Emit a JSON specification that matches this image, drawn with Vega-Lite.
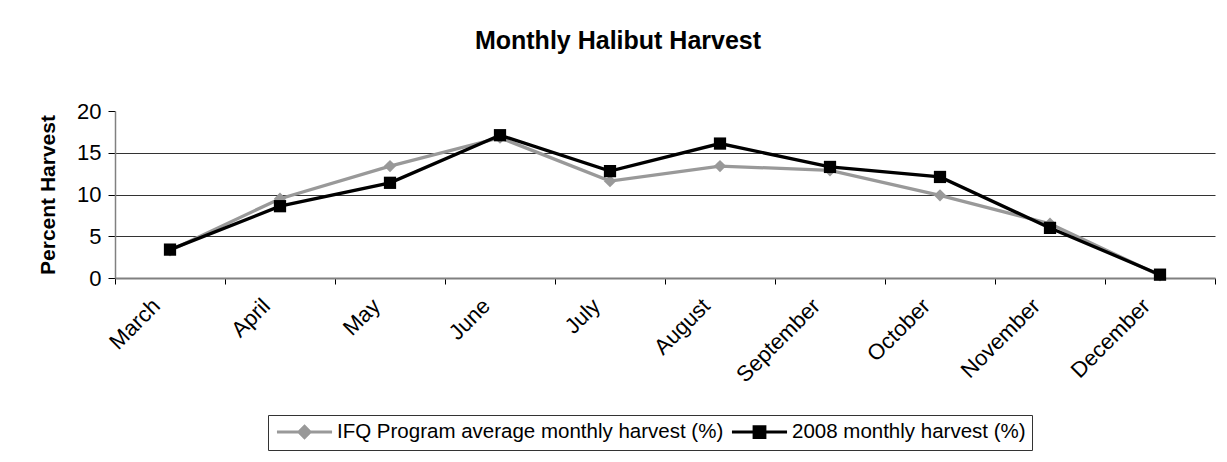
{
  "$schema": "https://vega.github.io/schema/vega-lite/v6.json",
  "autosize": "none",
  "width": 1100,
  "height": 167,
  "padding": {"left": 115, "top": 111, "right": 12, "bottom": 184},
  "background": "white",
  "config": {
    "font": "Liberation Sans",
    "view": {"stroke": null}
  },
  "title": {
    "text": "Monthly Halibut Harvest",
    "fontSize": 25,
    "fontWeight": "bold",
    "font": "Liberation Sans",
    "color": "black",
    "anchor": "middle",
    "dx": -47,
    "offset": 46
  },
  "data": {
    "values": [
      {"month": "March", "series": "IFQ Program average monthly harvest (%)", "value": 3.3},
      {"month": "April", "series": "IFQ Program average monthly harvest (%)", "value": 9.5},
      {"month": "May", "series": "IFQ Program average monthly harvest (%)", "value": 13.4},
      {"month": "June", "series": "IFQ Program average monthly harvest (%)", "value": 16.8},
      {"month": "July", "series": "IFQ Program average monthly harvest (%)", "value": 11.6},
      {"month": "August", "series": "IFQ Program average monthly harvest (%)", "value": 13.4},
      {"month": "September", "series": "IFQ Program average monthly harvest (%)", "value": 12.9},
      {"month": "October", "series": "IFQ Program average monthly harvest (%)", "value": 9.9},
      {"month": "November", "series": "IFQ Program average monthly harvest (%)", "value": 6.5},
      {"month": "December", "series": "IFQ Program average monthly harvest (%)", "value": 0.3},
      {"month": "March", "series": "2008 monthly harvest (%)", "value": 3.4},
      {"month": "April", "series": "2008 monthly harvest (%)", "value": 8.6},
      {"month": "May", "series": "2008 monthly harvest (%)", "value": 11.4},
      {"month": "June", "series": "2008 monthly harvest (%)", "value": 17.1},
      {"month": "July", "series": "2008 monthly harvest (%)", "value": 12.8},
      {"month": "August", "series": "2008 monthly harvest (%)", "value": 16.1},
      {"month": "September", "series": "2008 monthly harvest (%)", "value": 13.3},
      {"month": "October", "series": "2008 monthly harvest (%)", "value": 12.1},
      {"month": "November", "series": "2008 monthly harvest (%)", "value": 6.0},
      {"month": "December", "series": "2008 monthly harvest (%)", "value": 0.4}
    ]
  },
  "encoding": {
    "x": {
      "field": "month",
      "type": "nominal",
      "sort": ["March", "April", "May", "June", "July", "August", "September", "October", "November", "December"],
      "scale": {"type": "band", "paddingInner": 0, "paddingOuter": 0},
      "axis": {
        "title": null,
        "labelAngle": -45,
        "labelAlign": "right",
        "labelBaseline": "middle",
        "labelOffset": -14,
        "labelFontSize": 22,
        "labelColor": "black",
        "labelPadding": 18,
        "tickBand": "extent",
        "tickSize": 6,
        "tickColor": "black",
        "domainColor": "#808080",
        "domainWidth": 2,
        "grid": false
      }
    },
    "y": {
      "field": "value",
      "type": "quantitative",
      "scale": {"domain": [0, 20], "nice": false},
      "axis": {
        "title": "Percent Harvest",
        "titleFontSize": 21,
        "titleFontWeight": "bold",
        "titleColor": "black",
        "titlePadding": 18,
        "values": [0, 5, 10, 15, 20],
        "labelFontSize": 22,
        "labelColor": "black",
        "labelPadding": 7,
        "tickSize": 7,
        "tickColor": "black",
        "domainColor": "#808080",
        "domainWidth": 1.5,
        "grid": true,
        "gridColor": "#333333",
        "gridWidth": 1,
        "gridOpacity": {"condition": {"test": "datum.value === 20 || datum.value === 0", "value": 0}, "value": 1}
      }
    },
    "color": {
      "field": "series",
      "type": "nominal",
      "scale": {
        "domain": ["IFQ Program average monthly harvest (%)", "2008 monthly harvest (%)"],
        "range": ["#999999", "#000000"]
      },
      "legend": {
        "title": null,
        "orient": "none",
        "legendX": 153,
        "legendY": 304,
        "direction": "horizontal",
        "strokeColor": "#333333",
        "padding": 6,
        "labelFontSize": 20.5,
        "labelColor": "black",
        "labelLimit": 600,
        "columnPadding": 1,
        "symbolSize": 324,
        "symbolStrokeWidth": 3,
        "symbolOffset": 20,
        "labelOffset": 22,
        "encode": {
          "symbols": {
            "update": {
              "shape": {"signal": "datum.value === '2008 monthly harvest (%)' ? 'M-3.06,0L3.06,0M-0.6,-0.6L0.6,-0.6L0.6,0.6L-0.6,0.6Z' : 'M-3.06,0L3.06,0M0,-0.62L0.62,0L0,0.62L-0.62,0Z'"},
              "fill": {"scale": "color", "field": "value"},
              "stroke": {"scale": "color", "field": "value"},
              "strokeWidth": {"value": 3},
              "opacity": {"value": 1}
            }
          }
        }
      }
    }
  },
  "layer": [
    {
      "mark": {"type": "line", "strokeWidth": 3.3}
    },
    {
      "transform": [{"filter": "datum.series === 'IFQ Program average monthly harvest (%)'"}],
      "mark": {"type": "point", "shape": "diamond", "filled": true, "opacity": 1, "size": 150}
    },
    {
      "transform": [{"filter": "datum.series === '2008 monthly harvest (%)'"}],
      "mark": {"type": "point", "shape": "square", "filled": true, "opacity": 1, "size": 150}
    }
  ]
}
